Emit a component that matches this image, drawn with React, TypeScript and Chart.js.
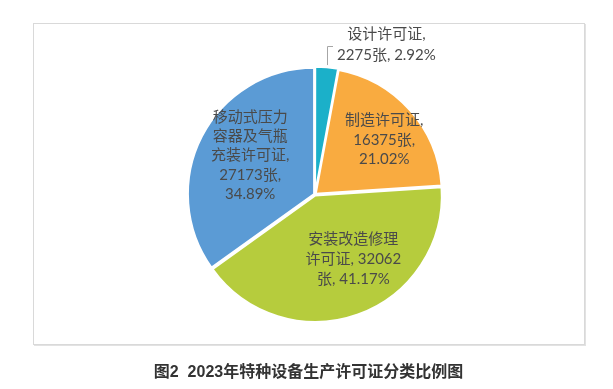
import React, { useEffect, useRef } from "react";
import { Chart, registerables } from "chart.js";

Chart.register(...registerables);

const categories = ["设计许可证", "制造许可证", "安装改造修理许可证", "移动式压力容器及气瓶充装许可证"];
const counts = [2275, 16375, 32062, 27173];
const colors = ["#1BB0C9", "#F9AB40", "#B6CC3D", "#5B9BD5"];
const labelLines = [
  ["设计许可证,", "{v}张, {p}%"],
  ["制造许可证,", "{v}张,", "{p}%"],
  ["安装改造修理", "许可证, {v}", "张, {p}%"],
  ["移动式压力", "容器及气瓶", "充装许可证,", "{v}张,", "{p}%"],
];
// label placement: angle clockwise from 12 o'clock (deg), distance as fraction of radius
const labelAngles = [25.5, 51.7, 149.5, 301];
const labelRadii = [1.317, 0.7, 0.6, 0.6];
const labelLineHeights = [21.5, 19.7, 20, 19.3];
const outsideLabel = [true, false, false, false];
const title = "图2  2023年特种设备生产许可证分类比例图";

const SLICE_OFFSET = 4;

const labelPlugin = {
  id: "pieLabels",
  afterDatasetsDraw(chart: any) {
    const meta = chart.getDatasetMeta(0);
    const total = counts.reduce((a, b) => a + b, 0);
    const ctx = chart.ctx as CanvasRenderingContext2D;
    ctx.save();
    ctx.font = '15px Lato, "Noto Sans CJK SC", sans-serif';
    ctx.textAlign = "center";
    ctx.textBaseline = "middle";
    meta.data.forEach((arc: any, i: number) => {
      const p = arc.getProps(["x", "y", "outerRadius", "startAngle", "endAngle"], true);
      const a = (labelAngles[i] * Math.PI) / 180;
      const r = labelRadii[i] * p.outerRadius;
      const lx = p.x + Math.sin(a) * r;
      const ly = p.y - Math.cos(a) * r;
      const pct = ((counts[i] / total) * 100).toFixed(2);
      const lines = labelLines[i].map((s) => s.replace("{v}", String(counts[i])).replace("{p}", pct));
      const lh = labelLineHeights[i];
      const top = ly - ((lines.length - 1) * lh) / 2;
      ctx.fillStyle = "#4a4a4a";
      lines.forEach((s, k) => ctx.fillText(s, lx, top + k * lh));
      if (outsideLabel[i]) {
        const mid = (p.startAngle + p.endAngle) / 2;
        const sx = p.x + Math.cos(mid) * (p.outerRadius + SLICE_OFFSET);
        const sy = p.y + Math.sin(mid) * (p.outerRadius + SLICE_OFFSET);
        ctx.strokeStyle = "#a6a6a6";
        ctx.lineWidth = 1;
        ctx.beginPath();
        ctx.moveTo(Math.round(sx) + 0.5, sy);
        ctx.lineTo(Math.round(sx) + 0.5, Math.round(ly + 1) + 0.5);
        ctx.lineTo(Math.round(sx) + 6, Math.round(ly + 1) + 0.5);
        ctx.stroke();
      }
    });
    ctx.restore();
  },
};

export default function App() {
  const ref = useRef<HTMLCanvasElement>(null);
  useEffect(() => {
    if (!ref.current) return;
    const chart = new Chart(ref.current, {
      type: "pie",
      data: {
        labels: categories,
        datasets: [
          {
            data: counts,
            backgroundColor: colors,
            borderColor: "#ffffff",
            borderWidth: 2,
            offset: SLICE_OFFSET,
            hoverOffset: 0,
          },
        ],
      },
      options: {
        responsive: false,
        animation: false,
        radius: 126,
        layout: { padding: { left: 60, right: 43, top: 40, bottom: 40 } },
        plugins: {
          legend: { display: false },
          tooltip: { enabled: false },
        },
      } as any,
      plugins: [labelPlugin],
    });
    return () => chart.destroy();
  }, []);

  return (
    <div style={{ position: "absolute", left: 0, top: 0, width: 613, height: 389, background: "#fff" }}>
      <div
        style={{
          position: "absolute",
          left: 33,
          top: 23,
          width: 550,
          height: 320,
          border: "1px solid #d9d9d9",
          boxShadow: "1px 1px 0 #e2e2e2",
        }}
      />
      <canvas
        ref={ref}
        width={613}
        height={389}
        style={{ position: "absolute", left: 0, top: 0, width: 613, height: 389 }}
      />
      <div
        style={{
          position: "absolute",
          left: 2,
          top: 362,
          width: 613,
          textAlign: "center",
          whiteSpace: "pre",
          font: 'bold 16px "Liberation Sans", "Noto Sans CJK SC", sans-serif',
          lineHeight: "20px",
          color: "#333",
        }}
      >
        {title}
      </div>
    </div>
  );
}
